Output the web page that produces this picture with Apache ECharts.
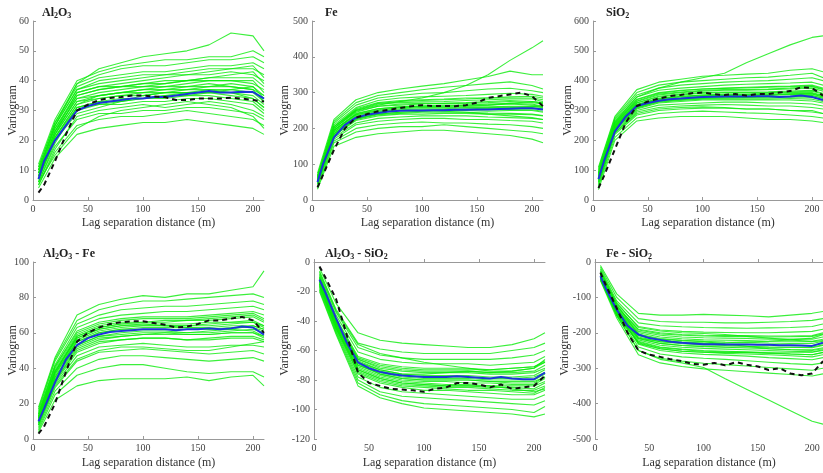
<!DOCTYPE html>
<html>
<head>
<meta charset="utf-8">
<script src="https://cdn.jsdelivr.net/npm/echarts@6/dist/echarts.min.js"></script>
<style>
  html, body { margin: 0; padding: 0; background: #fff; }
  #chart { width: 823px; height: 473px; }
</style>
</head>
<body>
<div id="chart"></div>
<script>
// Lag distances (m): simulated realizations and the mean / experimental curves
const LAG_SIM = [5, 20, 40, 60, 80, 100, 120, 140, 160, 180, 200, 210];
const LAG_CURVE = [5, 10, 20, 30, 40, 50, 60, 70, 80, 90, 100, 110, 120, 130, 140, 150, 160, 170, 180, 190, 200, 210];

const X_TICKS = [0, 50, 100, 150, 200];

// ---- Al2O3 ----
const AL2O3_SIM = [
  [4,14,22,24,25,26,26,27,26,25,24,22],
  [5,16,25,27,28,28,29,30,29,28,27,25],
  [6,18,27,29,29,30,30,31,31,30,29,27],
  [5,17,28,30,31,32,31,32,33,32,30,28],
  [7,20,30,32,32,33,33,34,34,33,32,29],
  [6,19,31,33,34,34,35,35,36,35,34,31],
  [8,21,32,34,35,36,36,36,37,37,36,33],
  [7,22,33,35,36,37,37,38,38,38,37,35],
  [9,23,34,36,37,38,38,39,40,40,39,37],
  [8,22,35,37,38,39,40,40,41,41,41,38],
  [10,24,36,38,39,40,41,42,42,43,42,40],
  [9,25,37,39,40,41,42,42,43,44,44,42],
  [11,26,38,41,42,43,43,44,45,45,46,44],
  [10,25,39,42,44,45,45,46,47,47,48,46],
  [12,27,40,43,45,46,47,47,48,48,50,48],
  [11,26,39,44,46,48,49,50,52,56,55,50],
  [6,15,24,28,30,31,32,33,32,31,28,24],
  [8,20,29,31,33,34,35,36,36,37,38,35],
  [7,21,31,33,33,34,34,35,35,34,33,30],
  [8,22,33,34,35,35,36,36,36,36,35,32],
  [9,23,34,35,36,36,37,37,38,39,38,34],
  [8,21,32,35,36,37,38,38,39,38,37,33],
  [10,24,35,37,38,38,39,40,40,40,40,36],
  [9,23,36,38,38,39,39,40,41,42,43,39],
  [7,20,31,32,33,35,36,37,37,36,34,31],
  [10,25,37,40,41,42,42,43,44,44,45,41]
];
const AL2O3_MEAN = [7,13,20,25,30,31.5,32.5,33,33.5,34,34,34.5,34.5,35,35.5,36,36.5,36,36,36.3,36.2,34];
const AL2O3_EXP = [2.5,5,13,22,30,32,33.5,34.2,34.5,35,35,34.7,34.5,33.5,33.5,34,34,34,34.3,34,33.5,33];

// ---- Fe ----
const FE_SIM = [
  [30,150,175,185,190,195,195,190,185,180,170,160],
  [35,160,190,200,205,205,210,205,200,195,190,185],
  [40,165,200,210,215,218,215,215,212,210,205,200],
  [45,170,210,220,225,228,228,225,225,222,220,215],
  [50,175,215,228,232,235,235,235,232,230,228,225],
  [45,180,222,235,240,240,242,242,240,240,238,235],
  [55,185,228,240,245,248,250,250,248,250,250,245],
  [50,190,235,248,252,255,255,258,258,260,258,255],
  [60,195,240,255,260,262,262,265,265,268,265,262],
  [55,200,245,262,268,270,270,272,275,278,275,270],
  [65,205,252,270,275,278,280,282,285,285,285,280],
  [60,210,258,278,285,288,290,292,295,298,295,290],
  [70,215,265,285,292,298,300,305,310,312,305,300],
  [65,220,272,292,300,308,315,320,325,330,320,310],
  [75,225,280,300,310,318,325,335,345,360,350,350],
  [60,205,250,265,275,285,300,320,350,390,425,445],
  [50,185,230,245,250,250,248,245,240,235,230,225],
  [55,195,238,252,258,260,262,262,265,270,275,272],
  [50,185,225,238,242,245,246,245,243,242,240,236],
  [55,190,232,245,250,252,252,252,252,253,252,248],
  [60,195,238,250,255,258,258,260,260,262,262,258],
  [55,195,242,255,260,263,265,265,268,270,268,262],
  [65,200,248,262,265,268,270,270,272,275,272,268],
  [60,200,250,268,272,274,275,278,280,282,282,275],
  [65,205,255,272,278,280,282,285,285,288,290,285],
  [50,180,226,240,245,248,252,255,256,258,262,260]
];
const FE_MEAN = [50,100,175,210,230,238,243,247,249,250,250,251,251,252,252,253,253,254,255,256,256,253];
const FE_EXP = [35,70,140,200,230,240,248,252,257,262,265,262,263,262,265,272,285,290,295,300,290,262];

// ---- SiO2 ----
const SIO2_SIM = [
  [35,200,265,275,280,280,280,275,270,270,265,260],
  [45,210,275,290,295,298,295,292,290,285,280,275],
  [50,220,285,300,305,308,308,305,305,300,295,290],
  [55,225,295,310,315,318,320,318,315,315,310,305],
  [60,230,300,318,322,325,328,328,325,325,322,315],
  [65,235,305,325,330,335,335,335,335,335,332,325],
  [70,240,312,332,338,342,342,342,342,345,345,335],
  [75,245,318,338,345,350,350,352,350,355,355,345],
  [80,250,325,345,352,358,360,360,360,362,365,355],
  [85,255,330,352,360,365,368,368,370,372,375,365],
  [90,260,338,360,368,372,375,378,380,382,385,375],
  [95,265,345,368,375,380,385,388,390,392,395,385],
  [100,270,352,375,385,390,395,398,400,405,410,400],
  [105,275,360,385,395,400,405,410,412,418,425,410],
  [110,280,370,395,405,415,418,422,425,435,440,430],
  [90,262,345,375,395,410,425,460,490,520,545,550],
  [60,225,290,305,310,312,310,305,305,300,300,290],
  [80,248,320,340,348,352,355,355,358,360,360,350],
  [65,235,308,328,334,338,338,338,338,340,338,330],
  [70,240,314,335,340,345,345,346,346,348,350,340],
  [75,245,320,340,347,352,353,353,354,356,358,348],
  [80,250,326,348,355,360,362,362,363,365,368,358],
  [85,255,332,355,362,368,370,370,372,375,380,370],
  [75,242,316,336,342,348,350,352,352,354,355,345],
  [90,258,336,358,366,372,374,376,378,380,382,372],
  [70,238,310,330,336,340,342,344,345,348,350,342]
];
const SIO2_MEAN = [70,130,230,280,315,325,333,338,340,343,345,346,347,347,347,348,348,345,347,350,345,335];
const SIO2_EXP = [40,80,170,260,315,330,340,348,352,358,360,355,352,355,350,355,355,360,365,378,375,350];

// ---- Al2O3 - Fe (cross) ----
const AL2O3_FE_SIM = [
  [4,22,30,33,34,34,34,35,33,35,36,30],
  [5,25,36,40,42,42,40,38,37,38,38,35],
  [6,27,40,45,47,47,46,45,44,45,46,44],
  [7,29,44,49,50,51,50,49,48,49,50,48],
  [8,31,47,52,53,54,53,52,52,53,53,52],
  [9,33,50,55,56,57,57,56,56,57,57,55],
  [10,35,53,58,59,60,60,59,59,60,60,58],
  [11,37,55,60,62,62,62,62,62,63,63,61],
  [12,38,57,62,64,64,64,64,65,66,66,64],
  [13,40,59,64,66,66,66,67,67,68,69,66],
  [14,41,61,66,68,69,69,69,70,71,72,70],
  [15,42,63,68,70,71,72,72,73,74,75,73],
  [16,44,65,70,73,74,75,75,76,77,78,76],
  [17,45,67,73,76,78,78,79,80,81,82,80],
  [18,46,70,76,79,81,80,82,82,84,86,95],
  [8,30,45,50,52,52,51,50,50,52,54,55],
  [12,38,58,63,65,65,64,63,62,62,61,58],
  [10,34,52,57,58,59,60,60,61,62,64,62],
  [10,35,53,58,60,61,61,60,60,61,62,60],
  [11,36,55,60,62,63,63,63,63,64,64,62],
  [12,38,57,62,64,65,65,65,66,66,67,64],
  [13,39,58,63,65,66,67,67,68,69,70,67],
  [9,33,51,56,58,59,59,59,59,60,60,57],
  [12,37,56,61,63,64,64,64,64,65,66,63],
  [14,41,60,65,67,68,68,68,69,70,71,68],
  [8,32,49,54,56,57,57,56,57,58,58,56]
];
const AL2O3_FE_MEAN = [10,17,32,45,53,57,59,60.5,61,61.5,62,62,62,61.5,62,62,62.5,62,62.5,63.5,63,59];
const AL2O3_FE_EXP = [3,7,20,38,55,60,63,65,66,66.5,66.5,65.5,64.5,63,63.5,65,67,67,68,69,67,60];

// ---- Al2O3 - SiO2 (cross) ----
const AL2O3_SIO2_SIM = [
  [-4,-28,-48,-53,-55,-56,-57,-58,-58,-56,-52,-48],
  [-6,-32,-55,-59,-61,-62,-62,-62,-62,-60,-58,-55],
  [-8,-34,-58,-63,-65,-66,-66,-66,-66,-65,-63,-60],
  [-9,-36,-61,-66,-68,-69,-69,-69,-70,-69,-68,-64],
  [-10,-38,-64,-69,-71,-72,-72,-72,-73,-72,-71,-68],
  [-11,-40,-66,-72,-74,-75,-75,-75,-76,-76,-75,-72],
  [-12,-41,-68,-74,-77,-78,-78,-78,-79,-79,-78,-75],
  [-13,-42,-70,-76,-79,-80,-80,-80,-81,-81,-81,-78],
  [-14,-43,-72,-78,-81,-82,-83,-83,-84,-84,-84,-81],
  [-15,-44,-74,-80,-83,-84,-85,-85,-86,-87,-87,-84],
  [-16,-45,-76,-82,-85,-87,-87,-88,-89,-90,-90,-87],
  [-17,-46,-78,-85,-88,-89,-90,-91,-92,-93,-93,-90],
  [-18,-47,-80,-88,-91,-92,-93,-94,-95,-96,-97,-94],
  [-19,-48,-82,-90,-94,-96,-97,-98,-99,-100,-102,-98],
  [-20,-49,-84,-92,-96,-99,-100,-101,-102,-103,-105,-103],
  [-7,-33,-56,-62,-65,-68,-70,-72,-74,-74,-72,-66],
  [-12,-40,-67,-73,-76,-76,-75,-74,-75,-74,-72,-68],
  [-15,-44,-73,-79,-82,-83,-84,-84,-84,-86,-88,-86],
  [-11,-40,-66,-71,-73,-74,-74,-74,-75,-75,-74,-70],
  [-12,-41,-68,-73,-76,-77,-77,-77,-78,-78,-77,-73],
  [-13,-42,-70,-75,-78,-79,-79,-79,-80,-80,-80,-76],
  [-14,-43,-71,-77,-80,-81,-81,-82,-82,-83,-83,-79],
  [-15,-44,-73,-79,-82,-83,-84,-84,-85,-85,-86,-82],
  [-10,-39,-65,-70,-72,-73,-73,-73,-73,-72,-71,-67],
  [-16,-45,-75,-81,-84,-85,-86,-87,-87,-88,-89,-85],
  [-13,-42,-69,-76,-79,-80,-80,-80,-81,-82,-82,-78]
];
const AL2O3_SIO2_MEAN = [-12,-20,-38,-55,-68,-72,-74.5,-76,-77,-77.5,-78,-78,-78,-77.5,-78,-78.5,-79,-78,-79,-79.5,-79.5,-75];
const AL2O3_SIO2_EXP = [-3,-10,-25,-50,-75,-82,-84,-86,-86.5,-87,-88,-86,-85,-82,-82,-83,-85,-83,-86,-85,-84,-77];

// ---- Fe - SiO2 (cross) ----
const FE_SIO2_SIM = [
  [-10,-90,-145,-150,-150,-148,-150,-152,-155,-150,-145,-140],
  [-15,-100,-160,-168,-170,-170,-172,-172,-170,-168,-165,-160],
  [-20,-110,-172,-180,-183,-185,-186,-187,-186,-185,-182,-175],
  [-25,-118,-182,-192,-196,-198,-199,-200,-200,-198,-196,-190],
  [-30,-125,-192,-203,-207,-209,-210,-211,-212,-211,-210,-203],
  [-35,-132,-200,-212,-217,-220,-221,-222,-224,-224,-224,-218],
  [-40,-138,-208,-221,-226,-229,-231,-232,-234,-235,-236,-230],
  [-45,-144,-216,-230,-236,-239,-241,-243,-245,-247,-248,-242],
  [-50,-150,-224,-240,-246,-250,-252,-254,-257,-260,-262,-255],
  [-38,-140,-232,-250,-257,-261,-263,-266,-270,-273,-276,-270],
  [-42,-146,-240,-260,-268,-272,-275,-279,-283,-287,-290,-285],
  [-48,-152,-250,-272,-280,-286,-290,-294,-298,-302,-306,-300],
  [-52,-158,-262,-285,-295,-302,-306,-310,-314,-318,-322,-316],
  [-30,-120,-205,-218,-222,-225,-232,-238,-245,-248,-250,-245],
  [-35,-130,-215,-225,-228,-230,-228,-226,-224,-220,-215,-205],
  [-45,-150,-250,-275,-285,-298,-330,-360,-390,-420,-450,-458],
  [-25,-115,-185,-195,-200,-202,-205,-210,-215,-220,-225,-222],
  [-40,-140,-230,-245,-252,-255,-256,-255,-255,-255,-255,-250],
  [-32,-128,-196,-207,-212,-214,-215,-216,-218,-218,-218,-212],
  [-36,-134,-204,-216,-221,-224,-226,-227,-229,-230,-230,-224],
  [-40,-140,-212,-225,-231,-234,-236,-238,-240,-241,-242,-236],
  [-44,-146,-220,-235,-241,-244,-246,-248,-250,-252,-254,-248],
  [-48,-150,-228,-245,-252,-255,-258,-260,-262,-265,-268,-262],
  [-30,-124,-190,-200,-205,-207,-208,-208,-209,-209,-208,-200],
  [-42,-144,-216,-230,-236,-238,-240,-240,-241,-241,-240,-234],
  [-46,-148,-226,-242,-248,-252,-254,-256,-258,-260,-262,-256]
];
const FE_SIO2_MEAN = [-40,-75,-135,-180,-205,-215,-220,-225,-228,-230,-232,-232,-233,-233,-233,-234,-234,-235,-235,-236,-237,-228];
const FE_SIO2_EXP = [-30,-65,-130,-200,-250,-262,-268,-275,-280,-288,-290,-285,-292,-283,-290,-295,-305,-300,-315,-320,-315,-280];

// ---- Panel titles (rich text: b = normal, s = subscript) ----
const TITLES = [
  '{b|Al}{s|2}{b|O}{s|3}',
  '{b|Fe}',
  '{b|SiO}{s|2}',
  '{b|Al}{s|2}{b|O}{s|3}{b| - Fe}',
  '{b|Al}{s|2}{b|O}{s|3}{b| - SiO}{s|2}',
  '{b|Fe - SiO}{s|2}'
];

const SERIF = "'Liberation Serif', 'Times New Roman', serif";

const panels = [
  { sim: AL2O3_SIM, mean: AL2O3_MEAN, exp: AL2O3_EXP, min: 0, max: 60, step: 10, left: 33, top: 21, h: 179, gap: 14, xgap: 17, tx: 42, ty: 6 },
  { sim: FE_SIM, mean: FE_MEAN, exp: FE_EXP, min: 0, max: 500, step: 100, left: 312, top: 21, h: 179, gap: 21, xgap: 17, tx: 325, ty: 6 },
  { sim: SIO2_SIM, mean: SIO2_MEAN, exp: SIO2_EXP, min: 0, max: 600, step: 100, left: 593, top: 21, h: 179, gap: 19, xgap: 17, tx: 606, ty: 6 },
  { sim: AL2O3_FE_SIM, mean: AL2O3_FE_MEAN, exp: AL2O3_FE_EXP, min: 0, max: 100, step: 20, left: 33, top: 262, h: 177, gap: 14, xgap: 18, tx: 43, ty: 247 },
  { sim: AL2O3_SIO2_SIM, mean: AL2O3_SIO2_MEAN, exp: AL2O3_SIO2_EXP, min: -120, max: 0, step: 20, left: 314, top: 262, h: 177, gap: 23, xgap: 18, tx: 325, ty: 247 },
  { sim: FE_SIO2_SIM, mean: FE_SIO2_MEAN, exp: FE_SIO2_EXP, min: -500, max: 0, step: 100, left: 595, top: 262, h: 177, gap: 24, xgap: 18, tx: 606, ty: 247 }
];

const grid = [], xAxis = [], yAxis = [], series = [], title = [];

panels.forEach((p, i) => {
  grid.push({ left: p.left, top: p.top, width: 231, height: p.h });
  xAxis.push({
    type: 'value', gridIndex: i, min: 0, max: 210, interval: 50,
    name: 'Lag separation distance (m)', nameLocation: 'middle', nameGap: p.xgap,
    nameMoveOverlap: false,
    nameTextStyle: { fontFamily: SERIF, fontSize: 12, color: '#333' },
    axisLine: { show: true, lineStyle: { color: '#999', width: 1 } },
    axisTick: { show: true, inside: true, length: 3, lineStyle: { color: '#999' } },
    axisLabel: { fontFamily: SERIF, fontSize: 10, color: '#444', margin: 4, showMaxLabel: false,
      formatter: v => (X_TICKS.indexOf(v) >= 0 ? String(v) : '') },
    splitLine: { show: false }
  });
  yAxis.push({
    type: 'value', gridIndex: i, min: p.min, max: p.max, interval: p.step,
    name: 'Variogram', nameLocation: 'middle', nameGap: p.gap, nameRotate: 90,
    nameMoveOverlap: false,
    nameTextStyle: { fontFamily: SERIF, fontSize: 12, color: '#333' },
    axisLine: { show: true, lineStyle: { color: '#999', width: 1 } },
    axisTick: { show: true, inside: true, length: 3, lineStyle: { color: '#999' } },
    axisLabel: { fontFamily: SERIF, fontSize: 10, color: '#444', margin: 4 },
    splitLine: { show: false }
  });
  title.push({
    text: TITLES[i], left: p.tx, top: p.ty, padding: 0,
    textStyle: {
      fontFamily: SERIF, fontSize: 12, fontWeight: 'bold', color: '#222',
      rich: {
        b: { fontFamily: SERIF, fontSize: 12, fontWeight: 'bold', color: '#222', lineHeight: 14, verticalAlign: 'middle' },
        s: { fontFamily: SERIF, fontSize: 8, fontWeight: 'bold', color: '#222', lineHeight: 8, verticalAlign: 'bottom' }
      }
    }
  });

  // simulated realizations
  p.sim.forEach(row => {
    series.push({
      type: 'line', xAxisIndex: i, yAxisIndex: i, symbol: 'none', silent: true,
      data: row.map((v, k) => [LAG_SIM[k], v]),
      lineStyle: { color: 'rgba(10,235,10,0.8)', width: 1.1 },
      z: 1
    });
  });
  // mean of realizations
  series.push({
    type: 'line', xAxisIndex: i, yAxisIndex: i, symbol: 'none', silent: true,
    data: p.mean.map((v, k) => [LAG_CURVE[k], v]),
    lineStyle: { color: '#1c35d8', width: 2 }, z: 3
  });
  // experimental variogram
  series.push({
    type: 'line', xAxisIndex: i, yAxisIndex: i, symbol: 'none', silent: true,
    data: p.exp.map((v, k) => [LAG_CURVE[k], v]),
    lineStyle: { color: '#111', width: 2, type: [5, 4] }, z: 4
  });
});

const chart = echarts.init(document.getElementById('chart'), null, { renderer: 'canvas' });
chart.setOption({
  animation: false,
  backgroundColor: '#fff',
  title, grid, xAxis, yAxis, series
});
</script>
</body>
</html>
